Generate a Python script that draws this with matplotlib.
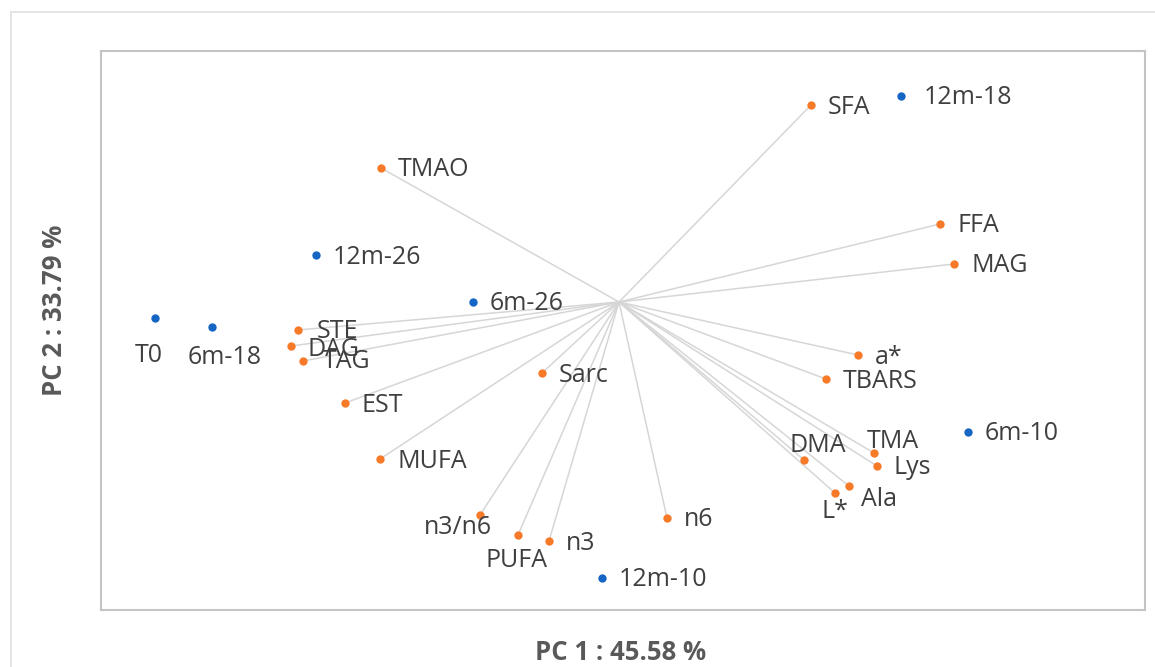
import matplotlib.pyplot as plt
from matplotlib.lines import Line2D

plt.rcParams['font.family'] = ['Open Sans', 'DejaVu Sans']

# 变量载荷 (PC1, PC2)
var_names = ['SFA', 'TMAO', 'FFA', 'MAG', 'STE', 'DAG', 'TAG', 'a*', 'TBARS',
             'Sarc', 'EST', 'MUFA', 'DMA', 'TMA', 'Lys', 'Ala', 'L*',
             'n3/n6', 'PUFA', 'n3', 'n6']
var_pc1 = [1.92, -2.38, 3.21, 3.35, -3.21, -3.28, -3.16, 2.39, 2.07,
           -0.77, -2.74, -2.39, 1.85, 2.55, 2.58, 2.30, 2.16,
           -1.39, -1.01, -0.70, 0.48]
var_pc2 = [1.97, 1.34, 0.78, 0.38, -0.28, -0.44, -0.59, -0.53, -0.77,
           -0.71, -1.01, -1.57, -1.58, -1.51, -1.64, -1.84, -1.91,
           -2.13, -2.33, -2.39, -2.16]

# 样本得分 (PC1, PC2)
obs_names = ['12m-18', '12m-26', '6m-26', 'T0', '6m-18', '6m-10', '12m-10']
obs_pc1 = [2.82, -3.03, -1.46, -4.64, -4.07, 3.49, -0.17]
obs_pc2 = [2.06, 0.47, 0.00, -0.16, -0.25, -1.30, -2.76]

# 标签位置: (dx, dy, ha, va) 以像素计
label_pos = {
    'T0': (-6, -37, 'center', 'center'),
    '6m-18': (13, -31, 'center', 'center'),
    'DMA': (-15, 15, 'left', 'center'),
    'TMA': (-7, 11, 'left', 'center'),
    'L*': (0, -6, 'center', 'top'),
    'n3/n6': (12, -12, 'right', 'center'),
    'PUFA': (-2, -13, 'center', 'top'),
    'Ala': (12, -14, 'left', 'center'),
    'STE': (19, -2, 'left', 'center'),
    'DAG': (17, -4, 'left', 'center'),
    'TAG': (20, -1, 'left', 'center'),
    '12m-18': (23, -1, 'left', 'center'),
}

text_color = '#3f3f3f'
blue = '#1565c4'
orange = '#f77a28'

fig = plt.figure(figsize=(11.55, 6.67), dpi=100)
ax = fig.add_axes([101 / 1155, 1 - 610 / 667, 1044 / 1155, 559 / 667])

# 载荷线
for x, y in zip(var_pc1, var_pc2):
    ax.plot([0, x], [0, y], color='#d6d6d6', lw=1.1, zorder=1)

ax.scatter(var_pc1, var_pc2, s=36, color=orange, zorder=3, linewidths=0)
ax.scatter(obs_pc1, obs_pc2, s=36, color=blue, zorder=3, linewidths=0)

for name, x, y in list(zip(var_names, var_pc1, var_pc2)) + list(zip(obs_names, obs_pc1, obs_pc2)):
    dx, dy, ha, va = label_pos.get(name, (17, -2, 'left', 'center'))
    ax.annotate(name, (x, y), xytext=(dx * 0.72, dy * 0.72), textcoords='offset points',
                ha=ha, va=va, fontsize=18, color=text_color, zorder=4)

ax.set_xlim(-5.18, 5.26)
ax.set_ylim(-3.08, 2.51)
ax.set_xticks([])
ax.set_yticks([])
for s in ax.spines.values():
    s.set_color('#c4c4c4')
    s.set_linewidth(1.5)

fig.text(621 / 1155, 1 - 652 / 667, 'PC 1 : 45.58 %', ha='center', va='center',
         fontsize=18.5, fontweight='bold', color='#595959')
fig.text(55 / 1155, 1 - 310 / 667, 'PC 2 : 33.79 %', ha='center', va='center',
         rotation=90, fontsize=18.5, fontweight='bold', color='#595959')

# 外框
fig.add_artist(Line2D([11 / 1155, 11 / 1155], [0, 1 - 12 / 667], color='#e0e0e0', lw=1.2))
fig.add_artist(Line2D([11 / 1155, 1], [1 - 12 / 667, 1 - 12 / 667], color='#e0e0e0', lw=1.2))

plt.savefig('out.png', dpi=100)
